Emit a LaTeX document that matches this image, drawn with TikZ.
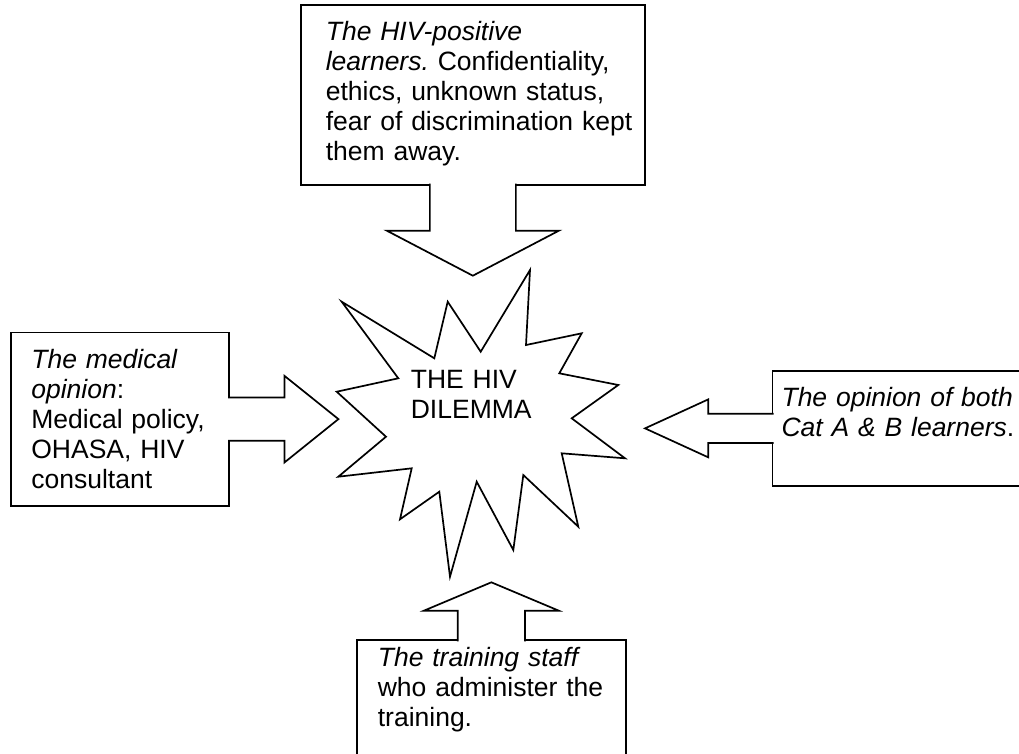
\documentclass[tikz,border=0pt]{standalone}
\usepackage{fontspec}
\setmainfont{Liberation Sans}
\frenchspacing
\usetikzlibrary{calc}
\begin{document}
\begin{tikzpicture}[x=1pt,y=-1pt,line width=1.7pt,
  box/.style = {draw = black, fill = white, anchor = north west, inner sep = 0pt},
  blockarrow/.style = {draw = black, fill = white, line join = miter},
  txt/.style = {anchor = base west, inner sep = 0pt, align = left, text width = #1, font = \fontsize{26.5}{30}\selectfont},
  burst/.style = {draw = black, fill = white, line join = miter}]
\useasboundingbox (0,0) rectangle (1019,753);
\clip (0,0) rectangle (1019,753);
\draw [burst] (530,270) -- (526,345) -- (581.7,333.3) -- (559.3,373.3) -- (618.3,385) -- (571.7,418.3) -- (625,458.3) -- (561.7,453.3) -- (578.3,526.7) -- (523.3,475) -- (513.3,550) -- (476.7,481.7) -- (450,576.7) -- (439.3,491.7) -- (400,519.3) -- (411.7,468.3) -- (338.3,476.7) -- (386,436.7) -- (336.7,391.7) -- (398.3,378.3) -- (341.7,301.7) -- (434.3,358.3) -- (447.7,301.7) -- (480.7,351.7) -- cycle;
\node[txt = 130pt] (dilemma) at (410,388.3) {THE HIV\\DILEMMA};
\node[box, minimum width = 344, minimum height = 180] (hivbox) at (300,4) {};
\node[box, minimum width = 218.3, minimum height = 173.3] (medbox) at (10,331.7) {};
\node[box, minimum width = 260, minimum height = 115] (catbox) at (771.7,370) {};
\node[box, minimum width = 269, minimum height = 130] (staffbox) at (356,639.3) {};
\filldraw [blockarrow] ([xshift=-43pt,yshift=2pt]hivbox.south) -- ++(0,47) -- ++(-43,0) -- ++(86,45) -- ++(86,-45) -- ++(-43,0) -- ++(0,-47);
\filldraw [blockarrow] ([xshift=-2pt,yshift=21.7pt]medbox.east) -- ++(56.4,0) -- ++(0,-21.7) -- ++(54,43.3) -- ++(-54,43.4) -- ++(0,-21.7) -- ++(-56.4,0);
\filldraw [blockarrow] ([xshift=2pt,yshift=14.7pt]catbox.west) -- ++(-65.4,0) -- ++(0,-14.3) -- ++(-63.3,29) -- ++(63.3,29) -- ++(0,-14.3) -- ++(65.4,0);
\filldraw [blockarrow] ([xshift=-33.7pt,yshift=-2pt]staffbox.north) -- ++(0,-30.6) -- ++(-33.8,0) -- ++(67.5,-28.4) -- ++(67.5,28.4) -- ++(-33.8,0) -- ++(0,30.6);
\node[txt = 320pt] (hivtext) at ([shift={(25,36.7)}]hivbox.north west) {\textit{The HIV-positive}\\\textit{learners.} Confidentiality,\\ethics, unknown status,\\fear of discrimination kept\\them away.};
\node[txt = 200pt] (medtext) at ([shift={(20.5,36.6)}]medbox.north west) {\textit{The medical}\\\textit{opinion}:\\Medical policy,\\OHASA, HIV\\consultant};
\node[txt = 240pt] (cattext) at ([shift={(9,36)}]catbox.north west) {\textit{The opinion of both}\\\textit{Cat A \& B learners}.};
\node[txt = 250pt] (stafftext) at ([shift={(21,27.4)}]staffbox.north west) {\textit{The training staff}\\who administer the\\training.};
\end{tikzpicture}
\end{document}
